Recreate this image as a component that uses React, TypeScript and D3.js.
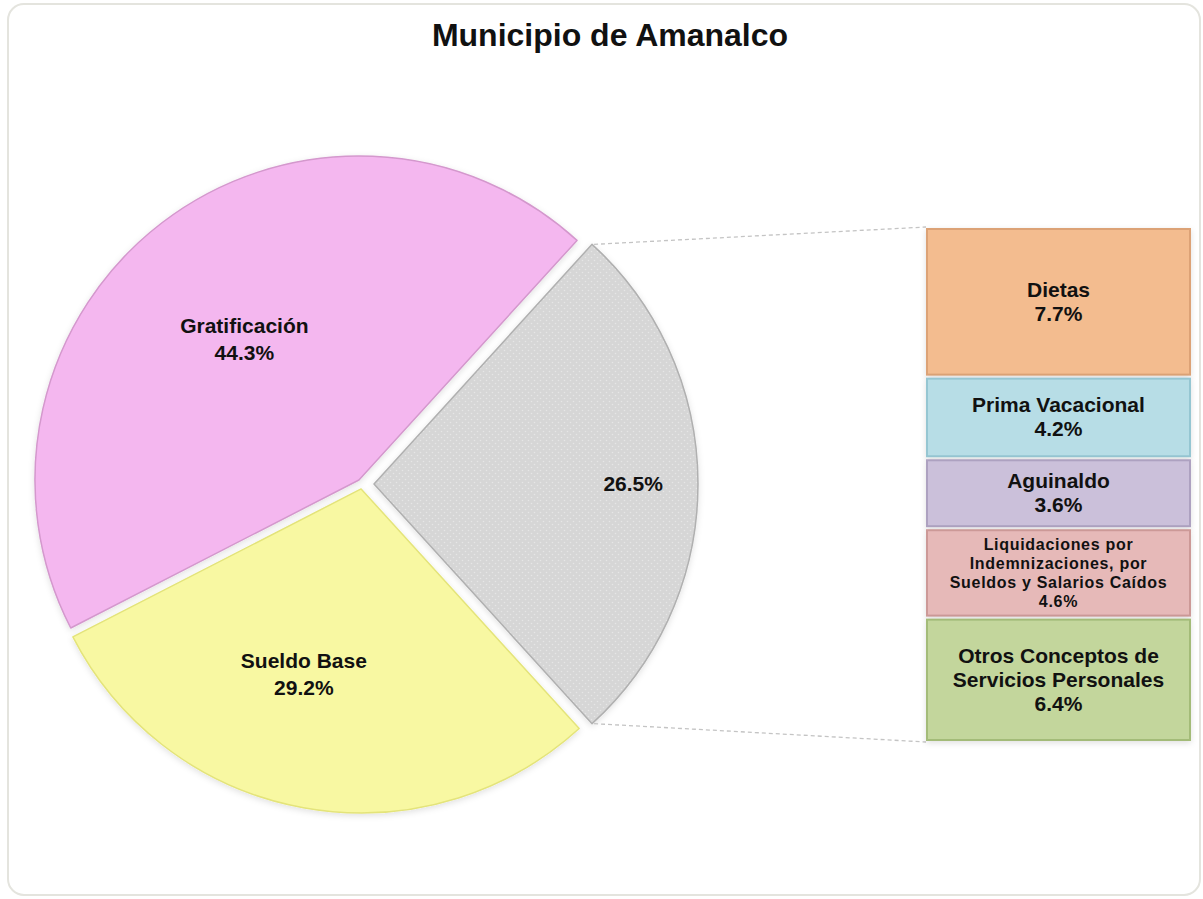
import { useEffect, useRef } from 'react';
import * as d3 from 'd3';

// pie: "otros" first so it sits on the right, Excel pie-of-bar style
const pieLabels = ['Otros', 'Sueldo Base', 'Gratificación'];
const pieValues = [26.5, 29.2, 44.3];
const pieColors = ['#d6d6d6', '#f8f8a2', '#f4b7ef'];
const pieEdges = ['#b0b0b0', '#e4e47a', '#d498cd'];

const barLabels = [
  ['Dietas'],
  ['Prima Vacacional'],
  ['Aguinaldo'],
  ['Liquidaciones por', 'Indemnizaciones, por', 'Sueldos y Salarios Caídos'],
  ['Otros Conceptos de', 'Servicios Personales'],
];
const barValues = [7.7, 4.2, 3.6, 4.6, 6.4];
const barColors = ['#f3bc8f', '#b7dde6', '#cbc0da', '#e6b9b8', '#c3d69c'];
const barEdges = ['#dca276', '#95c6d2', '#ada1c0', '#cc9997', '#a3bb78'];

const title = 'Municipio de Amanalco';

const App = (): JSX.Element => {
  const svgRef = useRef<SVGSVGElement>(null);

  useEffect(() => {
    if (svgRef.current) {
      svgRef.current.innerHTML = '';
    }
    const width = 1203;
    const height = 899;
    const cx = 362;
    const cy = 484;
    const radius = 324;
    const font = 'Liberation Sans, Arial, sans-serif';

    const svg = d3.select(svgRef.current).attr('width', width).attr('height', height);

    const defs = svg.append('defs');
    const pat = defs
      .append('pattern')
      .attr('id', 'dots')
      .attr('width', 6)
      .attr('height', 6)
      .attr('patternUnits', 'userSpaceOnUse');
    pat.append('rect').attr('width', 6).attr('height', 6).attr('fill', pieColors[0]);
    pat.append('circle').attr('cx', 1.5).attr('cy', 1.5).attr('r', 0.8).attr('fill', '#e6e6e6');
    pat.append('circle').attr('cx', 4.5).attr('cy', 4.5).attr('r', 0.8).attr('fill', '#e6e6e6');

    const shadow = defs.append('filter').attr('id', 'shadow').attr('x', -0.1).attr('y', -0.1).attr('width', 1.2).attr('height', 1.2);
    shadow
      .append('feDropShadow')
      .attr('dx', 0)
      .attr('dy', 2)
      .attr('stdDeviation', 3)
      .attr('flood-color', '#000')
      .attr('flood-opacity', 0.12);

    // chart frame
    svg
      .append('rect')
      .attr('x', 8)
      .attr('y', 4)
      .attr('width', 1192)
      .attr('height', 891)
      .attr('rx', 16)
      .attr('fill', '#fff')
      .attr('stroke', '#e4e4de')
      .attr('stroke-width', 2);

    svg
      .append('text')
      .attr('x', 610)
      .attr('y', 46)
      .attr('text-anchor', 'middle')
      .attr('font-family', font)
      .attr('font-weight', 'bold')
      .attr('font-size', 32)
      .attr('fill', '#111')
      .text(title);

    // the "otros" slice is centred on 3 o'clock
    const total = d3.sum(pieValues);
    const start = Math.PI / 2 - (pieValues[0] / total) * Math.PI;
    const pie = d3
      .pie<number>()
      .sort(null)
      .startAngle(start)
      .endAngle(start + 2 * Math.PI);
    const arcs = pie(pieValues);
    const arc = d3.arc<d3.PieArcDatum<number>>().innerRadius(0).outerRadius(radius);
    const explode = [12, 5, 5];
    const offset = (d: d3.PieArcDatum<number>, k: number) => {
      const a = (d.startAngle + d.endAngle) / 2;
      return [k * Math.sin(a), -k * Math.cos(a)];
    };

    const slices = svg.append('g').attr('transform', `translate(${cx},${cy})`);
    slices
      .selectAll('path')
      .data(arcs)
      .enter()
      .append('path')
      .attr('transform', (d, i) => {
        const [dx, dy] = offset(d, explode[i]);
        return `translate(${dx},${dy})`;
      })
      .attr('d', arc)
      .attr('fill', (d, i) => (i === 0 ? 'url(#dots)' : pieColors[i]))
      .attr('stroke', (d, i) => pieEdges[i])
      .attr('stroke-width', 1.5)
      .attr('stroke-linejoin', 'round')
      .attr('filter', 'url(#shadow)');

    // bar of the "otros" split
    const barX = 926;
    const barW = 265;
    const y = d3.scaleLinear([0, d3.sum(barValues)], [227, 742]);
    const cum = d3.cumsum(barValues);
    const bars = barValues.map((v, i) => ({ y0: y(cum[i] - v), y1: y(cum[i]), v, i }));

    // connector lines from the otros slice to the bar
    const [ox, oy] = offset(arcs[0], explode[0]);
    const p0: [number, number] = [cx + ox + radius * Math.sin(arcs[0].startAngle), cy + oy - radius * Math.cos(arcs[0].startAngle)];
    const p1: [number, number] = [cx + ox + radius * Math.sin(arcs[0].endAngle), cy + oy - radius * Math.cos(arcs[0].endAngle)];
    svg
      .append('g')
      .selectAll('line')
      .data([
        [p0, [barX, y(0)]],
        [p1, [barX, y(d3.sum(barValues))]],
      ])
      .enter()
      .append('line')
      .attr('x1', (d) => d[0][0] + 2)
      .attr('y1', (d) => d[0][1])
      .attr('x2', (d) => d[1][0])
      .attr('y2', (d) => d[1][1])
      .attr('stroke', '#c4c4c4')
      .attr('stroke-width', 1.3)
      .attr('stroke-dasharray', '4,3');

    svg
      .append('g')
      .selectAll('rect')
      .data(bars)
      .enter()
      .append('rect')
      .attr('x', barX + 1)
      .attr('y', (d) => d.y0 + 2)
      .attr('width', barW - 2)
      .attr('height', (d) => d.y1 - d.y0 - 4)
      .attr('fill', (d) => barColors[d.i])
      .attr('stroke', (d) => barEdges[d.i])
      .attr('stroke-width', 2)
      .attr('filter', 'url(#shadow)');

    // bar labels
    const barText = svg
      .append('g')
      .attr('font-family', font)
      .attr('font-weight', 'bold')
      .attr('fill', '#111')
      .attr('text-anchor', 'middle');
    bars.forEach((b) => {
      const small = barLabels[b.i].length > 2;
      const lh = small ? 19 : 24;
      const lines = [...barLabels[b.i], `${b.v.toFixed(1)}%`];
      const mid = (b.y0 + b.y1) / 2;
      const t = barText
        .append('text')
        .attr('font-size', small ? 16 : 21)
        .attr('letter-spacing', small ? 0.7 : 0)
        .attr('y', mid - ((lines.length - 1) * lh) / 2 + (small ? 6 : 7));
      lines.forEach((l, j) => {
        t.append('tspan')
          .attr('x', barX + barW / 2)
          .attr('dy', j === 0 ? 0 : lh)
          .text(l);
      });
    });

    // pie labels
    const labelPos = [
      { r: 0.8, da: 0 },
      { r: 0.6, da: 0.12 },
      { r: 0.56, da: -0.03 },
    ];
    const pieText = svg
      .append('g')
      .attr('font-family', font)
      .attr('font-weight', 'bold')
      .attr('font-size', 21)
      .attr('fill', '#111')
      .attr('text-anchor', 'middle');
    arcs.forEach((d, i) => {
      const [dx, dy] = offset(d, explode[i]);
      const a = (d.startAngle + d.endAngle) / 2 + labelPos[i].da;
      const lx = cx + dx + labelPos[i].r * radius * Math.sin(a);
      const ly = cy + dy - labelPos[i].r * radius * Math.cos(a);
      const lines = i === 0 ? [`${d.data.toFixed(1)}%`] : [pieLabels[i], `${d.data.toFixed(1)}%`];
      const t = pieText.append('text').attr('y', ly - ((lines.length - 1) * 27) / 2 + 7);
      lines.forEach((l, j) => {
        t.append('tspan').attr('x', lx).attr('dy', j === 0 ? 0 : 27).text(l);
      });
    });
  }, []);

  return (
    <div style={{ position: 'absolute', left: 0, top: 0 }}>
      <svg ref={svgRef} style={{ display: 'block' }} />
    </div>
  );
};

export default App;
